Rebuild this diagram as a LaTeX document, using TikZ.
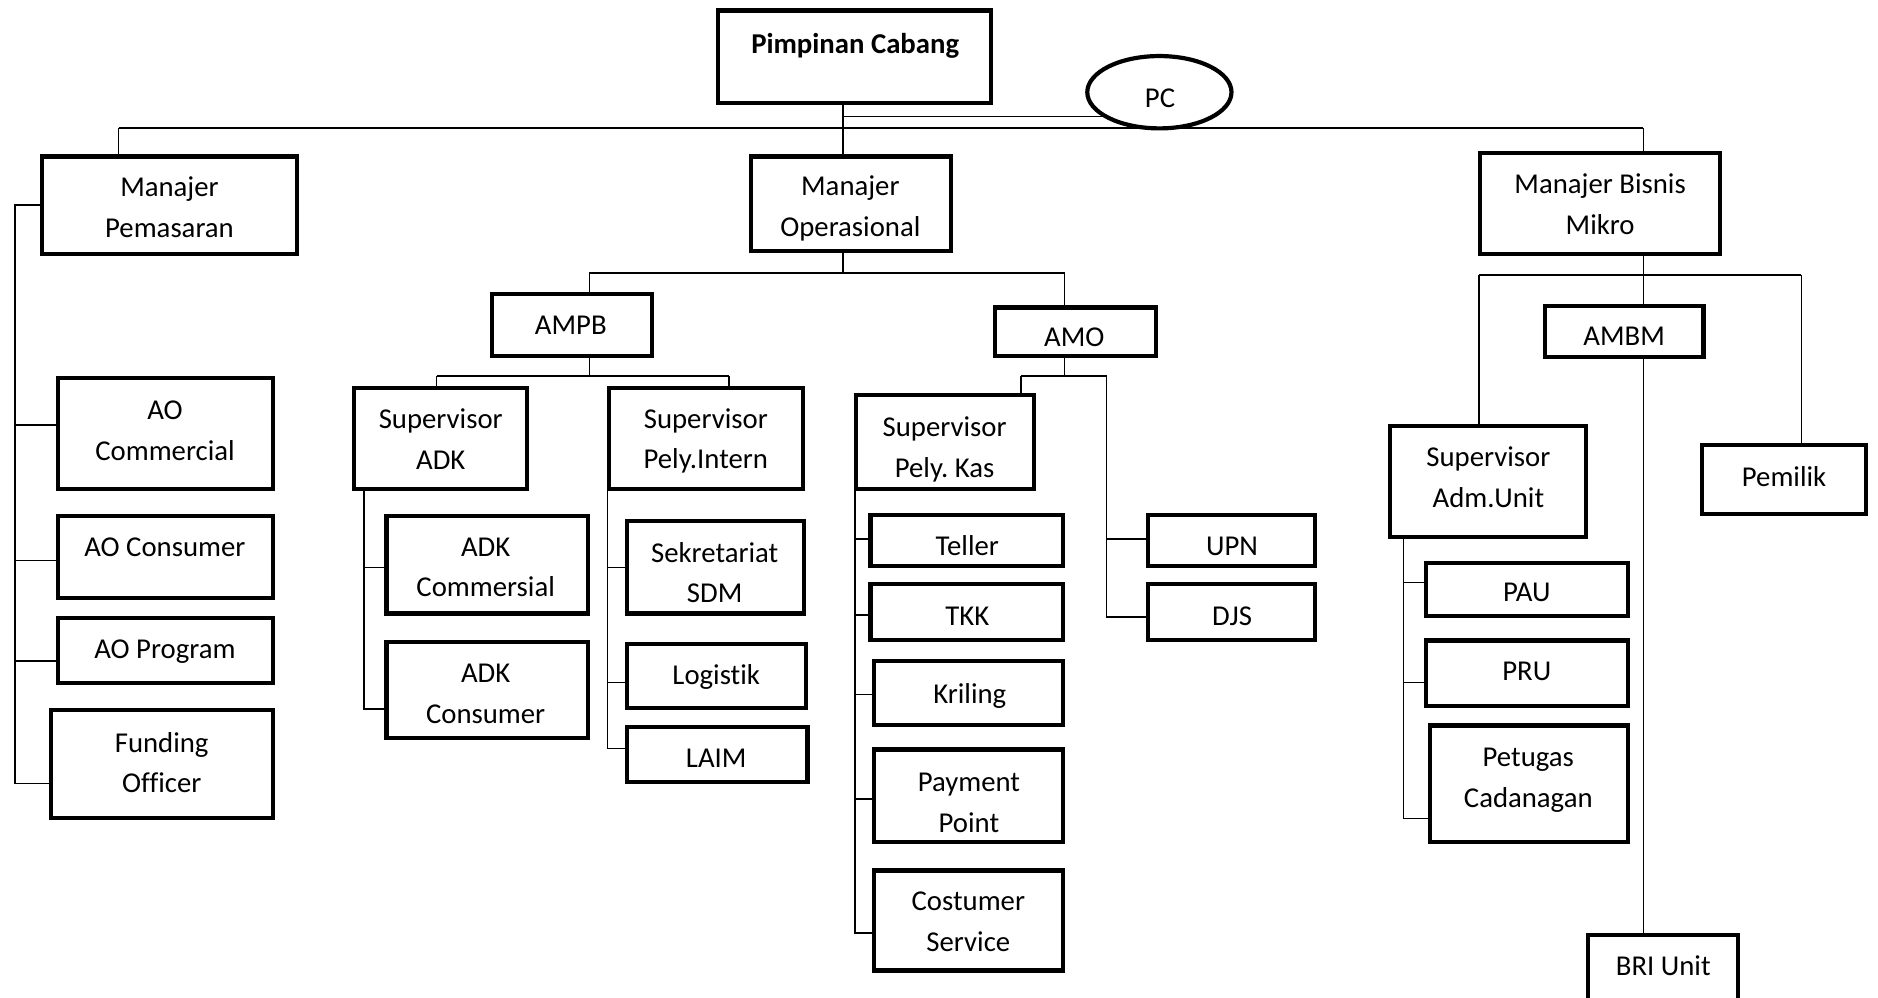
\documentclass[tikz,border=0pt]{standalone}
\usepackage{fontspec}
\setmainfont{Carlito}[Ligatures=NoCommon]
\frenchspacing
\usetikzlibrary{shapes.geometric}
\pgfdeclarelayer{bg}
\pgfsetlayers{bg,main}
\tikzset{
  orgbox/.style={draw, line width=1.75pt, fill=white, inner sep=0pt, rectangle},
  txt/.style={font=\fontsize{12}{17}\selectfont, align=center, inner sep=0pt, yshift=-0.8pt},
  conn/.style={line width=0.6pt}
}
\newcommand\mkbox[5]{\node[orgbox, minimum width={(#4-#2-3.5)*0.5pt}, minimum height={(#5-#3-3.5)*0.5pt}] (#1) at ({(#2+#4)/2},{(#3+#5)/2}) {};}
\newcommand\mktxt[4]{\node[txt] (#1) at (#2,#3) {#4};}
\begin{document}
\begin{tikzpicture}[x=0.5pt,y=-0.5pt]
\useasboundingbox (0,0) rectangle (1568,833);
% boxes
\mkbox{pimp}{598}{7}{829}{88}
\node[ellipse, draw, line width=1.75pt, fill=white, inner sep=0pt, minimum width=60.2pt, minimum height=30.2pt] (pc) at (968,77) {};
\mkbox{mp}{33}{129}{250}{214}
\mkbox{mo}{625}{129}{796}{211}
\mkbox{mbm}{1234}{126}{1438}{214}
\mkbox{ampb}{409}{244}{546}{299}
\mkbox{amo}{829}{255}{967}{299}
\mkbox{ambm}{1288}{254}{1424}{300}
\mkbox{supadk}{294}{322}{442}{410}
\mkbox{suppi}{507}{322}{672}{410}
\mkbox{suppk}{713}{328}{865}{410}
\mkbox{supau}{1159}{354}{1326}{450}
\mkbox{pemilik}{1419}{370}{1560}{431}
\mkbox{aocom}{47}{314}{230}{410}
\mkbox{aocon}{47}{429}{230}{501}
\mkbox{aoprog}{47}{514}{230}{572}
\mkbox{fund}{41}{591}{230}{685}
\mkbox{adkcom}{321}{429}{493}{514}
\mkbox{adkcon}{321}{534}{493}{618}
\mkbox{sdm}{522}{433}{673}{514}
\mkbox{logistik}{522}{536}{675}{593}
\mkbox{laim}{522}{605}{676}{655}
\mkbox{teller}{725}{428}{889}{474}
\mkbox{tkk}{725}{486}{889}{536}
\mkbox{kriling}{728}{550}{889}{607}
\mkbox{payment}{728}{624}{889}{705}
\mkbox{cs}{728}{725}{889}{812}
\mkbox{upn}{957}{428}{1100}{474}
\mkbox{djs}{957}{486}{1100}{536}
\mkbox{pau}{1189}{468}{1361}{516}
\mkbox{pru}{1189}{533}{1361}{591}
\mkbox{petugas}{1192}{604}{1361}{705}
\mkbox{bri}{1324}{779}{1453}{840}
% texts
\mktxt{pimp-t}{714}{36}{\strut\textbf{Pimpinan Cabang}}
\mktxt{pc-t}{968.5}{81}{\strut PC}
\mktxt{mp-t}{141.5}{173}{\strut Manajer\\\strut Pemasaran}
\mktxt{mo-t}{710}{172}{\strut Manajer\\\strut Operasional}
\mktxt{mbm-t}{1336}{170}{\strut Manajer Bisnis\\\strut Mikro}
\mktxt{ampb-t}{476.6}{271}{\strut AMPB}
\mktxt{amo-t}{897}{281}{\strut AMO}
\mktxt{ambm-t}{1356}{280}{\strut AMBM}
\mktxt{supadk-t}{368}{366.5}{\strut Supervisor\\\strut ADK}
\mktxt{suppi-t}{589.3}{366}{\strut Supervisor\\\strut Pely.Intern}
\mktxt{suppk-t}{788.7}{373}{\strut Supervisor\\\strut Pely. Kas}
\mktxt{supau-t}{1242.7}{398}{\strut Supervisor\\\strut Adm.Unit}
\mktxt{pemilik-t}{1489.6}{398}{\strut Pemilik}
\mktxt{aocom-t}{137.8}{359}{\strut AO\\\strut Commercial}
\mktxt{aocon-t}{137.7}{456}{\strut AO Consumer}
\mktxt{aoprog-t}{137.7}{541}{\strut AO Program}
\mktxt{fund-t}{135}{636.5}{\strut Funding\\\strut Officer}
\mktxt{adkcom-t}{405.5}{473}{\strut ADK\\\strut Commersial}
\mktxt{adkcon-t}{405.5}{578.5}{\strut ADK\\\strut Consumer}
\mktxt{sdm-t}{596.7}{478}{\strut Sekretariat\\\strut SDM}
\mktxt{logistik-t}{598}{563.5}{\strut Logistik}
\mktxt{laim-t}{598}{632}{\strut LAIM}
\mktxt{teller-t}{807.6}{455}{\strut Teller}
\mktxt{tkk-t}{807.6}{513.5}{\strut TKK}
\mktxt{kriling-t}{809.7}{578.8}{\strut Kriling}
\mktxt{payment-t}{809}{669.4}{\strut Payment\\\strut Point}
\mktxt{cs-t}{808.5}{769}{\strut Costumer\\\strut Service}
\mktxt{upn-t}{1028.7}{455}{\strut UPN}
\mktxt{djs-t}{1028.7}{513.5}{\strut DJS}
\mktxt{pau-t}{1274.7}{494}{\strut PAU}
\mktxt{pru-t}{1274.7}{560}{\strut PRU}
\mktxt{petugas-t}{1276}{648.7}{\strut Petugas\\\strut Cadanagan}
\mktxt{bri-t}{1388.7}{806}{\strut BRI Unit}
% junction coordinates
\coordinate (jTop) at (704,107);
\coordinate (jPC) at (704,97.4);
\coordinate (jMPt) at (99,107);
\coordinate (jMBMt) at (1372,107);
\coordinate (jMP1) at (12.5,171);
\coordinate (jMP2) at (12.5,355);
\coordinate (jMP3) at (12.5,468);
\coordinate (jMP4) at (12.5,552);
\coordinate (jMP5) at (12.5,654);
\coordinate (jMO) at (704,228);
\coordinate (jAMPB) at (492,228);
\coordinate (jAMO) at (889,228);
\coordinate (jA1) at (492,314);
\coordinate (jA2) at (364.6,314);
\coordinate (jA3) at (608.7,314);
\coordinate (jD1) at (304,474);
\coordinate (jD2) at (304,592);
\coordinate (jI1) at (507,474);
\coordinate (jI2) at (507,570);
\coordinate (jI3) at (507,625);
\coordinate (jO1) at (889,314);
\coordinate (jO2) at (852.5,314);
\coordinate (jO3) at (924,314);
\coordinate (jO4) at (924,450);
\coordinate (jO5) at (924,515);
\coordinate (jK1) at (714,450);
\coordinate (jK2) at (714,513.5);
\coordinate (jK3) at (714,580);
\coordinate (jK4) at (714,667);
\coordinate (jK5) at (714,779);
\coordinate (jB0) at (1372,229.6);
\coordinate (jB1) at (1235,229.6);
\coordinate (jB2) at (1504,229.6);
\coordinate (jU1) at (1172,486.5);
\coordinate (jU2) at (1172,570);
\coordinate (jU3) at (1172,683.5);
\begin{pgfonlayer}{bg}
\fill[white] (0,0) rectangle (1568,833);
\begin{scope}[conn]
% top level
\draw (pimp.south -| jTop) -- (mo.north -| jTop);
\draw (jPC) -- (jPC -| pc.center);
\draw (jMPt) -- (jMBMt);
\draw (jMPt) -- (mp.north -| jMPt);
\draw (jMBMt) -- (mbm.north -| jMBMt);
% pemasaran
\draw (mp.west |- jMP1) -- (jMP1) -- (jMP5) -- (fund.west |- jMP5);
\draw (jMP2) -- (aocom.west |- jMP2);
\draw (jMP3) -- (aocon.west |- jMP3);
\draw (jMP4) -- (aoprog.west |- jMP4);
% operasional
\draw (mo.south -| jMO) -- (jMO);
\draw (jAMPB) -- (jAMO);
\draw (jAMPB) -- (ampb.north -| jAMPB);
\draw (jAMO) -- (amo.north -| jAMO);
% AMPB
\draw (ampb.south -| jA1) -- (jA1);
\draw (jA2) -- (jA3);
\draw (jA2) -- (supadk.north -| jA2);
\draw (jA3) -- (suppi.north -| jA3);
\draw (supadk.south -| jD1) -- (jD2) -- (adkcon.west |- jD2);
\draw (jD1) -- (adkcom.west |- jD1);
\draw (suppi.south -| jI1) -- (jI3) -- (laim.west |- jI3);
\draw (jI1) -- (sdm.west |- jI1);
\draw (jI2) -- (logistik.west |- jI2);
% AMO
\draw (amo.south -| jO1) -- (jO1);
\draw (jO2) -- (jO3) -- (jO5) -- (djs.west |- jO5);
\draw (jO2) -- (suppk.north -| jO2);
\draw (jO4) -- (upn.west |- jO4);
\draw (suppk.south -| jK1) -- (jK5) -- (cs.west |- jK5);
\draw (jK1) -- (teller.west |- jK1);
\draw (jK2) -- (tkk.west |- jK2);
\draw (jK3) -- (kriling.west |- jK3);
\draw (jK4) -- (payment.west |- jK4);
% bisnis mikro
\draw (mbm.south -| jB0) -- (ambm.north -| jB0);
\draw (jB1) -- (jB2);
\draw (jB1) -- (supau.north -| jB1);
\draw (jB2) -- (pemilik.north -| jB2);
\draw (ambm.south -| jB0) -- (bri.north -| jB0);
\draw (supau.south -| jU1) -- (jU3) -- (petugas.west |- jU3);
\draw (jU1) -- (pau.west |- jU1);
\draw (jU2) -- (pru.west |- jU2);
\end{scope}
\end{pgfonlayer}
\end{tikzpicture}
\end{document}
